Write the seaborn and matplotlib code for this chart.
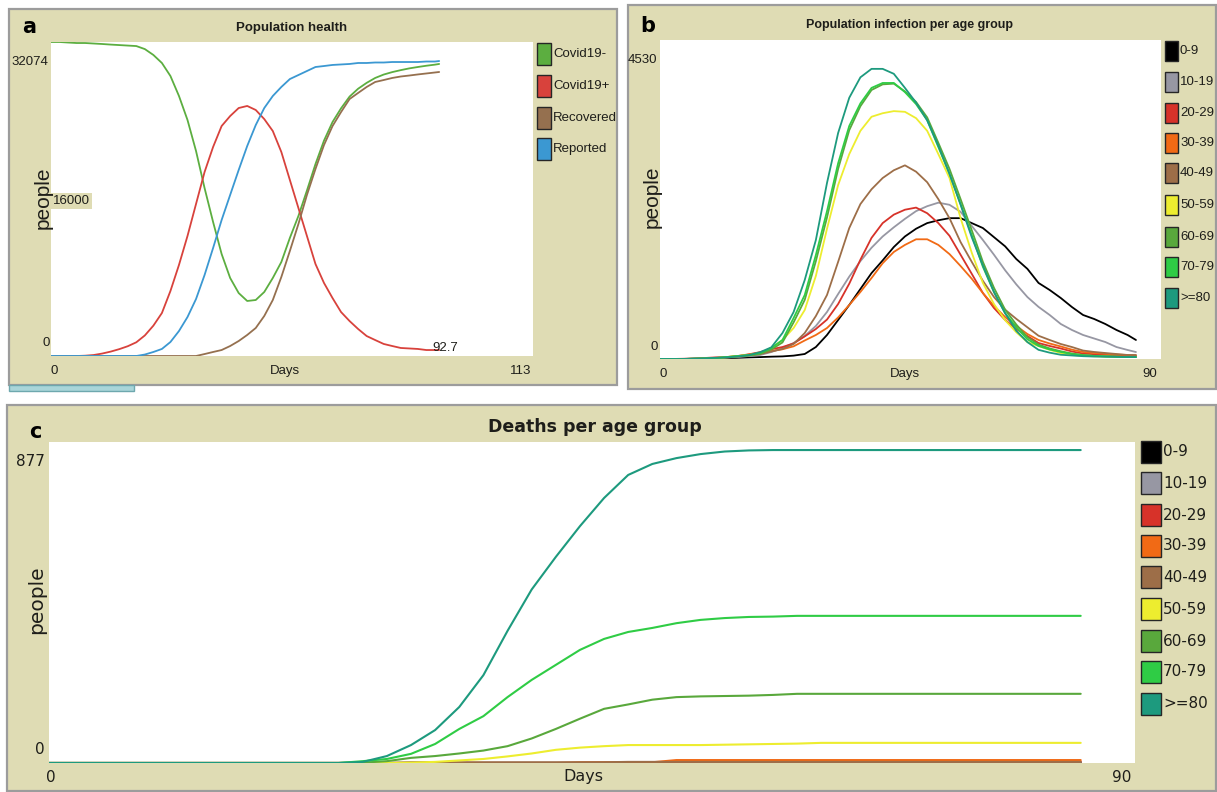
import numpy as np
import pandas as pd
import matplotlib
matplotlib.use("Agg")
import matplotlib.pyplot as plt
import seaborn as sns
from matplotlib.patches import Rectangle
from matplotlib import font_manager as fm

# ---------------- data ----------------
days_a = list(range(0, 91, 2)) + [91]
covid_neg = [32074, 32074, 32020, 31970, 31970, 31920, 31870, 31810, 31760, 31710,
             31660, 31350, 30750, 29930, 28600, 26560, 24110, 20940, 17160, 13690,
             10420, 7970, 6430, 5620, 5720, 6540, 7970, 9600, 12060, 14300,
             16900, 19600, 22000, 23900, 25300, 26500, 27300, 27900, 28400, 28750,
             29000, 29200, 29380, 29520, 29650, 29760, 29830]
covid_pos = [0, 0, 0, 0, 30, 100, 250, 450, 700, 1000,
             1400, 2100, 3100, 4390, 6640, 9300, 12260, 15530, 18790, 21350,
             23490, 24510, 25330, 25540, 25130, 24200, 22980, 20840, 17980, 15120,
             12260, 9400, 7460, 5920, 4490, 3570, 2760, 2040, 1630, 1230,
             1020, 820, 770, 720, 610, 610, 610]
recovered = [0] * 18 + [200, 410, 610, 1020, 1530, 2150, 2860, 4090, 5720, 8070,
                        10730, 13480, 16450, 19100, 21550, 23490, 24920, 26250, 26870, 27480,
                        27990, 28190, 28400, 28550, 28650, 28760, 28860, 28960, 29010]
reported = [0] * 11 + [150, 410, 720, 1430, 2550, 3980, 5820, 8270, 11030, 13890,
                       16450, 19000, 21450, 23590, 25330, 26560, 27480, 28290, 28700, 29110,
                       29520, 29620, 29730, 29780, 29830, 29930, 29930, 29980, 29980, 30030,
                       30030, 30030, 30030, 30080, 30080, 30130]
labels_a = ["Covid19-", "Covid19+", "Recovered", "Reported"]

days_bc = list(range(0, 85, 2)) + [85.5]
age_groups = ["0-9", "10-19", "20-29", "30-39", "40-49", "50-59", "60-69", "70-79", ">=80"]

inf_0_9 = [0, 0, 0, 0, 3, 7, 11, 17, 23, 27, 33, 37, 48, 71, 170, 341, 554, 767, 994, 1220,
           1400, 1590, 1740, 1850, 1930, 1970, 2000, 2000, 1930, 1860, 1730, 1600, 1420, 1280, 1080,
           980, 866, 738, 625, 568, 497, 412, 341, 270]
inf_10_19 = [0, 0, 0, 3, 6, 10, 20, 28, 43, 57, 99, 156, 227, 327, 469, 668, 923, 1170, 1390, 1580,
             1740, 1870, 1990, 2100, 2170, 2220, 2190, 2090, 1890, 1690, 1480, 1260, 1060, 880, 740,
             625, 497, 412, 341, 291, 241, 170, 128, 99]
inf_20_29 = [0, 0, 3, 7, 14, 23, 28, 43, 67, 98, 139, 170, 221, 321, 426, 560, 781, 1070, 1410, 1720,
             1930, 2050, 2120, 2150, 2070, 1930, 1750, 1480, 1210, 937, 724, 554, 426, 326, 227,
             185, 149, 107, 78, 68, 60, 51, 43, 43]
inf_30_39 = [0, 0, 0, 3, 7, 14, 26, 40, 64, 84, 114, 138, 180, 263, 341, 440, 590, 767, 952, 1150,
             1360, 1520, 1620, 1700, 1700, 1620, 1490, 1320, 1140, 937, 753, 596, 469, 355, 270,
             220, 178, 133, 99, 85, 74, 62, 57, 50]
inf_40_49 = [0, 0, 0, 3, 6, 10, 21, 36, 53, 71, 106, 142, 213, 369, 610, 909, 1380, 1860, 2200, 2410,
             2570, 2680, 2750, 2660, 2510, 2270, 2000, 1660, 1380, 1110, 880, 700, 570, 450, 330,
             270, 213, 170, 120, 100, 85, 71, 57, 57]
inf_50_59 = [0, 0, 0, 3, 7, 14, 28, 43, 57, 85, 156, 270, 440, 696, 1180, 1850, 2470, 2910, 3240, 3440,
             3490, 3520, 3510, 3420, 3240, 2910, 2570, 2000, 1510, 1080, 780, 550, 380, 240, 185,
             130, 85, 57, 45, 38, 34, 31, 28, 28]
inf_60_69 = [0, 0, 0, 3, 6, 12, 24, 38, 50, 75, 135, 235, 520, 840, 1390, 2010, 2700, 3250, 3590, 3820,
             3900, 3910, 3800, 3650, 3430, 3070, 2700, 2270, 1830, 1380, 1010, 700, 490, 310, 205,
             150, 110, 78, 57, 45, 38, 33, 28, 28]
inf_70_79 = [0, 0, 0, 3, 7, 14, 28, 43, 57, 85, 156, 270, 582, 909, 1477, 2100, 2780, 3310, 3630, 3850,
             3920, 3920, 3790, 3620, 3390, 3010, 2630, 2200, 1760, 1310, 950, 650, 450, 280, 185,
             135, 100, 70, 52, 43, 37, 33, 28, 28]
inf_80p = [0, 0, 0, 7, 10, 17, 24, 36, 55, 97, 166, 369, 667, 1122, 1690, 2500, 3210, 3710, 4000, 4120,
           4120, 4050, 3850, 3640, 3390, 3030, 2630, 2190, 1730, 1330, 950, 650, 400, 240, 130,
           90, 60, 50, 40, 35, 33, 31, 28, 28]

death_0_9 = [0] * 44
death_10_19 = [0] * 23 + [2] * 21
death_20_29 = [0] * 27 + [4] * 17
death_30_39 = [0] * 22 + [2, 2, 2, 2] + [8] * 18
death_40_49 = [0] * 15 + [2] * 9 + [3] * 20
death_50_59 = [0] * 13 + [0, 0, 1, 3, 7, 11, 18, 26, 36, 42, 46, 49, 49, 49, 49, 50, 51, 52] + [53] + [55] * 12
death_60_69 = [0] * 13 + [1, 5, 14, 19, 26, 34, 46, 67, 93, 121, 148, 160, 173, 180, 182, 183, 184, 186] + [189] * 13
death_70_79 = [0] * 13 + [5, 11, 25, 52, 93, 128, 180, 227, 268, 309, 339, 358, 369, 382, 391, 396, 399, 400] + [402] * 13
death_80p = [0] * 13 + [3, 19, 49, 90, 153, 240, 361, 474, 563, 647, 724, 787, 817, 833, 844, 851, 854, 855] + [855] * 13

xmax_a, ymax_a = 113, 32074
xmax_b, ymax_b = 90, 4530
xmax_c, ymax_c = 90, 877

# ---------------- styling ----------------
W, H = 1217, 792
BEIGE = "#dfdcb4"
BORDER = "#9c9c9c"
TXT = "#1e1e1a"
col_a = ["#5cae40", "#d8423c", "#95704f", "#3b98d2"]
col_age = ["#000000", "#9797a3", "#d73229", "#f16a15", "#9d6e48", "#eded2f", "#59a83c", "#2fcc45", "#1d9a7e"]

names = {f.name for f in fm.fontManager.ttflist}
NARROW = dict(family="Liberation Sans") if "Liberation Sans" in names else dict(family="DejaVu Sans")
k = 1.0 if "Liberation Sans" in names else 0.88
NORMAL = dict(family="DejaVu Sans")

sns.set_theme(style="white")
plt.rcParams["font.family"] = ["DejaVu Sans"]

fig = plt.figure(figsize=(W / 100, H / 100), dpi=100)
fig.patch.set_facecolor("white")


def frac(x0, y0, x1, y1):
    return [x0 / W, 1 - y1 / H, (x1 - x0) / W, (y1 - y0) / H]


def rect(x0, y0, x1, y1, fc, ec, lw=1.0, z=-1):
    fig.add_artist(Rectangle((x0 / W, 1 - y1 / H), (x1 - x0) / W, (y1 - y0) / H,
                             transform=fig.transFigure, facecolor=fc, edgecolor=ec, lw=lw, zorder=z))


def T(x, y, s, **kw):
    kw.setdefault("color", TXT)
    return fig.text(x / W, 1 - y / H, s, **kw)


def make_axes(box):
    ax = fig.add_axes(frac(*box))
    ax.set_facecolor("white")
    ax.set_xticks([])
    ax.set_yticks([])
    for s in ax.spines.values():
        s.set_visible(False)
    return ax


def draw_lines(ax, days, series, names_, colors, xmax, ymax, lw=1.3):
    df = pd.concat([pd.DataFrame({"day": days, "value": v, "series": n}) for v, n in zip(series, names_)],
                   ignore_index=True)
    sns.lineplot(data=df, x="day", y="value", hue="series", hue_order=names_, palette=colors,
                 estimator=None, sort=False, legend=False, lw=lw, ax=ax)
    ax.set_xlabel("")
    ax.set_ylabel("")
    ax.set_xticks([])
    ax.set_yticks([])
    ax.set_xlim(0, xmax)
    ax.set_ylim(0, ymax)


def legend(xb, ycs, w, h, colors, labels, fs, props):
    for y, c, lab in zip(ycs, colors, labels):
        rect(xb, y - h / 2, xb + w, y + h / 2, c, "#262626", lw=1.0, z=3)
        T(xb + w + 2, y, lab, ha="left", va="center", fontsize=fs, **props)


# ---------------- panel backgrounds ----------------
rect(9, 9, 617, 385, BEIGE, BORDER, lw=1.6)
rect(628, 5, 1216, 389, BEIGE, BORDER, lw=1.6)
rect(7, 405, 1216, 791, BEIGE, BORDER, lw=1.6)
rect(9, 385, 134, 391, "#a9d5d9", "#6ea8ae", lw=1.0)

# ---------------- panel a ----------------
ax_a = make_axes((51, 42, 533, 356))
draw_lines(ax_a, days_a, [covid_neg, covid_pos, recovered, reported], labels_a, col_a, xmax_a, ymax_a)
T(29, 27, "a", ha="center", va="center", fontsize=15, fontweight="bold", color="black", **NORMAL)
T(292, 28, "Population health", ha="center", va="center", fontsize=9.5 * k, fontweight="bold", **NARROW)
T(48, 62, f"{ymax_a}", ha="right", va="center", fontsize=9.5 * k, **NARROW)
T(53, 201, "16000", ha="left", va="center", fontsize=9.5 * k,
  bbox=dict(facecolor=BEIGE, edgecolor="none", pad=1.5), **NARROW)
T(46, 343, "0", ha="center", va="center", fontsize=9.5 * k, **NARROW)
T(43, 198, "people", ha="center", va="center", rotation=90, fontsize=15 * k, **NARROW)
T(54, 371, "0", ha="center", va="center", fontsize=9.5 * k, **NARROW)
T(285, 371, "Days", ha="center", va="center", fontsize=9.5 * k, **NARROW)
T(531, 371, f"{xmax_a}", ha="right", va="center", fontsize=9.5 * k, **NARROW)
T(432, 348, "92.7", ha="left", va="center", fontsize=9.5 * k, **NARROW)
legend(537, [54, 86, 118, 149], 14, 22, col_a, labels_a, 9.5 * k, NARROW)

# ---------------- panel b ----------------
ax_b = make_axes((660, 40, 1161, 359))
draw_lines(ax_b, days_bc, [inf_0_9, inf_10_19, inf_20_29, inf_30_39, inf_40_49, inf_50_59,
                           inf_60_69, inf_70_79, inf_80p], age_groups, col_age, xmax_b, ymax_b)
T(648, 26, "b", ha="center", va="center", fontsize=15, fontweight="bold", color="black", **NORMAL)
T(910, 25, "Population infection per age group", ha="center", va="center", fontsize=9 * k,
  fontweight="bold", **NARROW)
T(657, 60, f"{ymax_b}", ha="right", va="center", fontsize=9.5 * k, **NARROW)
T(654, 347, "0", ha="center", va="center", fontsize=9.5 * k, **NARROW)
T(652, 197, "people", ha="center", va="center", rotation=90, fontsize=15 * k, **NARROW)
T(663, 374, "0", ha="center", va="center", fontsize=9.5 * k, **NARROW)
T(905, 374, "Days", ha="center", va="center", fontsize=9.5 * k, **NARROW)
T(1157, 374, f"{xmax_b}", ha="right", va="center", fontsize=9.5 * k, **NARROW)
legend(1165, [51, 82, 113, 143, 173, 205, 237, 267, 298], 13, 20, col_age, age_groups, 9.5 * k, NARROW)

# ---------------- panel c ----------------
ax_c = make_axes((49, 442, 1135, 763))
draw_lines(ax_c, days_bc, [death_0_9, death_10_19, death_20_29, death_30_39, death_40_49, death_50_59,
                           death_60_69, death_70_79, death_80p], age_groups, col_age, xmax_c, ymax_c, lw=1.5)
T(35, 432, "c", ha="center", va="center", fontsize=15, fontweight="bold", color="black", **NORMAL)
T(595, 427, "Deaths per age group", ha="center", va="center", fontsize=12.5, fontweight="bold", **NORMAL)
T(30, 461, f"{ymax_c}", ha="center", va="center", fontsize=11, **NORMAL)
T(40, 750, "0", ha="center", va="center", fontsize=11, **NORMAL)
T(37, 600, "people", ha="center", va="center", rotation=90, fontsize=14.5, **NORMAL)
T(51, 777, "0", ha="center", va="center", fontsize=11, **NORMAL)
T(583, 777, "Days", ha="center", va="center", fontsize=11.5, **NORMAL)
T(1122, 777, f"{xmax_c}", ha="center", va="center", fontsize=11, **NORMAL)
legend(1141, [452, 483, 515, 546, 577, 609, 641, 672, 704], 20, 22, col_age, age_groups, 11, NORMAL)

fig.savefig("out.png", dpi=100, facecolor="white")
